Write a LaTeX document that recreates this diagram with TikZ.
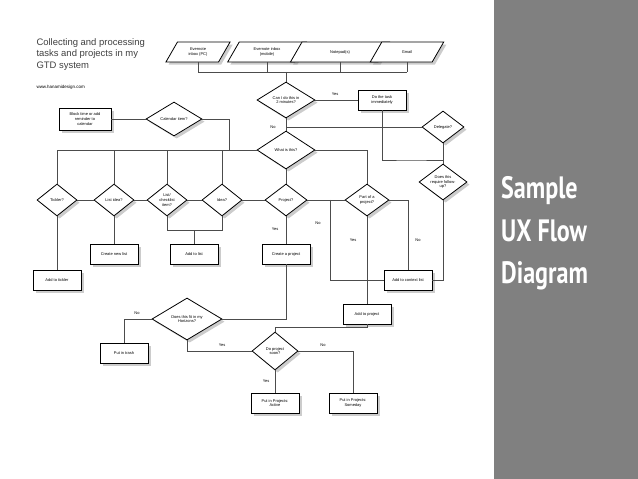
\documentclass[tikz,border=0pt]{standalone}
\usepackage{fontspec}
\setmainfont{Liberation Sans}
\newfontfamily\panelfont[FakeStretch=0.78]{PT Sans}
\usetikzlibrary{shapes.geometric,shadows}
\tikzstyle{step box}=[draw,thick,fill=white,minimum width=48bp,minimum height=20bp,
    inner sep=1bp,align=center,drop shadow={opacity=0.4},font=\fontsize{4}{4.6}\selectfont]
\tikzstyle{decision}=[draw,thick,fill=white,diamond,aspect=1.3,inner sep=0.5bp,
    minimum height=32bp,align=center,drop shadow={opacity=0.4},font=\fontsize{4}{4.6}\selectfont]
\tikzstyle{source}=[draw,thick,fill=white,trapezium,trapezium left angle=60,
    trapezium right angle=120,minimum width=50bp,minimum height=20bp,inner sep=1bp,
    align=center,drop shadow={opacity=0.4},font=\fontsize{4}{4.6}\selectfont]
\tikzstyle{flow}=[thick,draw=black!70]
\tikzstyle{answer}=[font=\fontsize{4}{4.6}\selectfont]
\newcommand{\answer}[2]{\node[answer] at (#1) {#2};}

\begin{document}
\begin{tikzpicture}[x=1bp,y=-1bp]
    \useasboundingbox (0,0) rectangle (638,479);
    \fill[black!50] (494,0) rectangle (638,479);
    \node[text=white,font=\panelfont\bfseries\fontsize{31}{43}\selectfont,
        anchor=north west,align=left,inner sep=0pt] (panel) at (501,176) {Sample\\UX Flow\\Diagram};
    %
    \node[anchor=north west,align=left,font=\fontsize{9.5}{11.5}\selectfont,text=black!75]
        (title) at (33,35) {Collecting and processing\\tasks and projects in my\\GTD system};
    \node[anchor=west,font=\fontsize{4.5}{5}\selectfont] (url) at (33,87) {www.hanamidesign.com};
    %
    \node[source] (pc) at (198,52) {Evernote\\inbox (PC)};
    \node[source,minimum width=62bp] (mobile) at (267,52) {Evernote inbox\\(mobile)};
    \node[source] (notepad) at (340,52) {Notepad(s)};
    \node[source] (gmail) at (407,52) {Gmail};
    \coordinate (bus) at (286,72);
    %
    \node[decision,minimum width=58bp,minimum height=36bp] (twomin) at (286,100) {Can I do this in\\2 minutes?};
    \node[step box] (doit) at (382,100) {Do the task\\immediately};
    \node[decision,minimum width=42bp] (delegate) at (443,127) {Delegate?};
    \node[decision,minimum width=48bp,minimum height=36bp] (followup) at (443,182) {Does this\\require follow-\\up?};
    \node[step box,minimum height=22bp,minimum width=52bp] (block) at (85,119) {Block time or add\\reminder to\\calendar};
    \node[decision,minimum width=56bp,minimum height=34bp] (calendar) at (174,119) {Calendar item?};
    \node[decision,minimum width=58bp,minimum height=38bp] (what) at (286,150) {What is this?};
    %
    \node[decision,minimum width=40bp] (tickler) at (57,200) {Tickler?};
    \node[decision,minimum width=40bp] (listidea) at (114,200) {List idea?};
    \node[decision,minimum width=40bp] (checklist) at (167,200) {List/\\checklist\\item?};
    \node[decision,minimum width=40bp] (idea) at (222,200) {Idea?};
    \node[decision,minimum width=42bp] (project) at (286,200) {Project?};
    \node[decision,minimum width=44bp] (partof) at (367,200) {Part of a\\project?};
    %
    \node[step box] (addtickler) at (57,280) {Add to tickler};
    \node[step box] (newlist) at (114,254) {Create new list};
    \node[step box] (addlist) at (194,254) {Add to list};
    \node[step box] (newproject) at (286,254) {Create a project};
    \node[step box] (context) at (408,280) {Add to context list};
    \node[step box] (addproject) at (367,314) {Add to project};
    %
    \node[decision,minimum width=70bp,minimum height=42bp] (horizons) at (187,319) {Does this fit in my\\Horizons?};
    \node[step box] (trash) at (124,353) {Put in trash};
    \node[decision,minimum width=46bp,minimum height=38bp] (soon) at (275,351) {Do project\\soon?};
    \node[step box] (active) at (275,403) {Put in Projects:\\Active};
    \node[step box] (someday) at (353,403) {Put in Projects:\\Someday};
    %
    \foreach \src in {pc,mobile,notepad,gmail}
        \draw[flow] (\src.south) -- (\src.south|-bus);
    \draw[flow] (pc.south|-bus) -- (gmail.south|-bus);
    \draw[flow] (bus) -- (twomin.north);
    \draw[flow] (twomin.east) -- (doit.west);
    \draw[flow] (twomin.south) -- (what.north);
    \draw[flow] (twomin.south|-delegate) -- (delegate.west);
    \draw[flow] (doit.south) |- (410,160) -| (followup.north);
    \draw[flow] (delegate.south) -- (followup.north);
    \draw[flow] (block.east) -- (calendar.west);
    \draw[flow] (calendar.east) -| (229,150);
    \draw[flow] (tickler.north) |- (what.west);
    \draw[flow] (what.east) -| (partof.north);
    \foreach \q in {listidea,checklist,idea}
        \draw[flow] (\q.north) -- (\q.north|-what);
    \draw[flow] (what.south) -- (project.north);
    \draw[flow] (tickler.east) -- (listidea.west);
    \draw[flow] (listidea.east) -- (checklist.west);
    \draw[flow] (checklist.east) -- (idea.west);
    \draw[flow] (idea.east) -- (project.west);
    \draw[flow] (project.east) -- (partof.west);
    \draw[flow] (tickler.south) -- (addtickler.north);
    \draw[flow] (listidea.south) -- (newlist.north);
    \draw[flow] (checklist.south) |- (idea.south|-230,230) -- (idea.south);
    \draw[flow] (addlist.north) -- (addlist.north|-230,230);
    \draw[flow] (project.south) -- (newproject.north);
    \draw[flow] (330,200) |- (context.west);
    \draw[flow] (partof.east) -| (context.north);
    \draw[flow] (followup.south) |- (context.east);
    \draw[flow] (partof.south) -- (addproject.north);
    \draw[flow] (newproject.south) |- (horizons.east);
    \draw[flow] (horizons.west) -| (trash.north);
    \draw[flow] (horizons.south) |- (soon.west);
    \draw[flow] (addproject.south) |- (275,327) -- (soon.north);
    \draw[flow] (soon.east) -| (someday.north);
    \draw[flow] (soon.south) -- (active.north);
    %
    \answer{335,94}{Yes}
    \answer{273,127}{No}
    \answer{275,229}{Yes}
    \answer{318,223}{No}
    \answer{353,240}{Yes}
    \answer{418,240}{No}
    \answer{137,313}{No}
    \answer{222,345}{Yes}
    \answer{323,345}{No}
    \answer{266,381}{Yes}
\end{tikzpicture}
\end{document}
